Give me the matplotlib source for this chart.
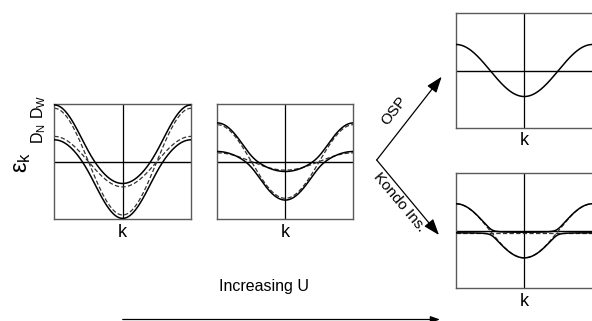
import numpy as np
import matplotlib
matplotlib.use("Agg")
import matplotlib.pyplot as plt

plt.rcParams["font.family"] = ["Liberation Sans", "DejaVu Sans"]
plt.rcParams["mathtext.fontset"] = "custom"
plt.rcParams["mathtext.rm"] = "Liberation Sans"
plt.rcParams["mathtext.it"] = "Liberation Sans"

W, H = 592, 321

# Band parameters (units of the panel half-height)
# Two-band panels: weak U, stronger U, Kondo insulator
wide_band = [0.93, 0.65, 0.465]        # half-bandwidth of the wide band
narrow_band = [0.44, 0.195, 0.0]       # half-bandwidth of the narrow band
narrow_level = [0.0, 0.0, -0.03]       # centre of the narrow band
hybridization = [0.18, 0.10, 0.05]     # inter-band mixing V
# bare (unhybridized) bands, drawn dashed
bare_wide = [0.93, 0.64, 0.47]
bare_narrow = [0.44, 0.15, 0.0]
bare_level = [0.0, 0.0, -0.03]
# orbital-selective phase: single remaining band
osp_band = 0.455

# Panel boxes in pixels: left, top, right, bottom
boxes = {
    "p1": (54.3, 104.3, 191.0, 219.0),
    "p2": (217.3, 104.0, 353.3, 219.0),
    "osp": (456.0, 13.3, 592.5, 127.7),
    "kondo": (456.0, 173.3, 592.5, 288.3),
}

fig = plt.figure(figsize=(W / 100, H / 100), dpi=100)


def fx(x):
    return x / W


def fy(y):
    return 1 - y / H


def make_axes(box):
    l, t, r, b = box
    ax = fig.add_axes([fx(l), fy(b), (r - l) / W, (b - t) / H])
    ax.set_xlim(-np.pi, np.pi)
    ax.set_ylim(-1, 1)
    ax.set_xticks([])
    ax.set_yticks([])
    for s in ax.spines.values():
        s.set_color("#5a5a5a")
        s.set_linewidth(1.0)
    ax.axhline(0, color="black", lw=1.0, zorder=1)
    ax.axvline(0, color="black", lw=0.9, zorder=1)
    ax.text(0.5, -0.04, "k", transform=ax.transAxes, ha="center", va="top",
            fontsize=13)
    return ax


k = np.linspace(-np.pi, np.pi, 600)


def hybrid(a, b, e0, v):
    e1 = -a * np.cos(k)
    e2 = -b * np.cos(k) + e0
    mean = (e1 + e2) / 2
    split = np.sqrt(((e1 - e2) / 2) ** 2 + v ** 2)
    return mean + split, mean - split


two_band = ["p1", "p2", "kondo"]
for i, name in enumerate(two_band):
    ax = make_axes(boxes[name])
    ax.plot(k, -bare_wide[i] * np.cos(k), color="#333333", lw=0.9,
            dashes=(3.5, 1.8), zorder=2)
    ax.plot(k, -bare_narrow[i] * np.cos(k) + bare_level[i], color="#333333",
            lw=0.9, dashes=(3.5, 1.8), zorder=2)
    up, lo = hybrid(wide_band[i], narrow_band[i], narrow_level[i], hybridization[i])
    ax.plot(k, up, color="black", lw=1.1, zorder=3)
    ax.plot(k, lo, color="black", lw=1.1, zorder=3)

ax = make_axes(boxes["osp"])
ax.plot(k, -osp_band * np.cos(k), color="black", lw=1.1, zorder=3)

# axis label and band-edge markers of the first panel
fig.text(fx(22), fy(162), r"$\mathrm{ε}_\mathrm{k}$", rotation=90,
         ha="center", va="center", fontsize=17)
fig.text(fx(39), fy(107), r"$\mathrm{D}_\mathrm{W}$", rotation=90,
         ha="center", va="center", fontsize=11.5)
fig.text(fx(39), fy(134), r"$\mathrm{D}_\mathrm{N}$", rotation=90,
         ha="center", va="center", fontsize=11.5)

# branching arrows
arrow = dict(arrowstyle="-|>,head_length=0.7,head_width=0.25", color="black",
             lw=0.9, shrinkA=0, shrinkB=0)
fig.patches.append(matplotlib.patches.FancyArrowPatch(
    (fx(376.7), fy(160)), (fx(441.7), fy(76.7)), transform=fig.transFigure,
    mutation_scale=14, **arrow))
fig.patches.append(matplotlib.patches.FancyArrowPatch(
    (fx(376.7), fy(160)), (fx(439), fy(235)), transform=fig.transFigure,
    mutation_scale=14, **arrow))
fig.text(fx(394), fy(110.5), "OSP", rotation=52, ha="center", va="center",
         fontsize=11)
fig.text(fx(399), fy(202), "Kondo Ins.", rotation=-50, ha="center",
         va="center", fontsize=11)

# increasing-U arrow
fig.patches.append(matplotlib.patches.FancyArrowPatch(
    (fx(122.7), fy(319.5)), (fx(440), fy(319.5)), transform=fig.transFigure,
    mutation_scale=8, **arrow))
fig.text(fx(264), fy(287), "Increasing U", ha="center", va="center",
         fontsize=11.5)

fig.savefig("out.png", dpi=100)
